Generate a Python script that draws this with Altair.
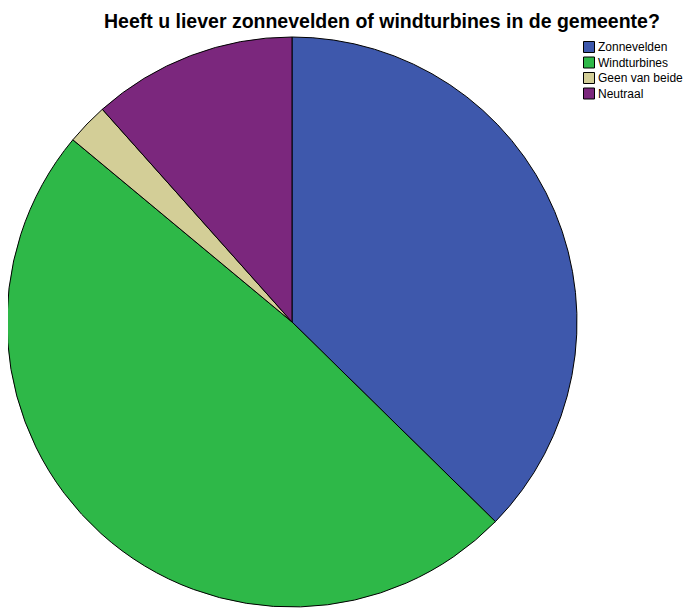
import altair as alt
import pandas as pd

title_text = "Heeft u liever zonnevelden of windturbines in de gemeente?"
categories = ["Zonnevelden", "Windturbines", "Geen van beide", "Neutraal"]
percentages = [37.35, 48.69, 2.37, 11.59]
colors = ["#3E58AC", "#2EB848", "#D3CE97", "#7B277D"]

df = pd.DataFrame({
    "categorie": categories,
    "percentage": percentages,
    "volgorde": list(range(len(categories))),
})

W, H = 677, 601
cx, cy, r = 284, 314, 285

pie = alt.Chart(df).mark_arc(
    radius=r, stroke="black", strokeWidth=1
).encode(
    theta=alt.Theta("percentage:Q", stack=True),
    order=alt.Order("volgorde:Q"),
    color=alt.Color(
        "categorie:N",
        sort=categories,
        scale=alt.Scale(domain=categories, range=colors),
        legend=alt.Legend(
            title=None,
            orient="none",
            legendX=575,
            legendY=33,
            symbolType="square",
            symbolSize=121,
            symbolStrokeColor="black",
            symbolStrokeWidth=1,
            symbolOpacity=1,
            labelFont="Liberation Sans",
            labelFontSize=12,
            labelColor="black",
            rowPadding=-0.5,
            labelOffset=3,
        ),
    ),
    x=alt.value(cx),
    y=alt.value(cy),
)

title = alt.Chart(pd.DataFrame({"t": [title_text]})).mark_text(
    font="Liberation Sans",
    fontSize=19.5,
    fontWeight="bold",
    color="black",
    align="left",
    baseline="alphabetic",
).encode(
    text="t:N",
    x=alt.value(96),
    y=alt.value(20),
)

chart = alt.layer(pie, title).properties(
    width=W,
    height=H,
    autosize=alt.AutoSizeParams(type="none"),
    padding=0,
).configure_view(stroke=None)

chart.save("out.html", embed_options={"renderer": "svg", "actions": False})
